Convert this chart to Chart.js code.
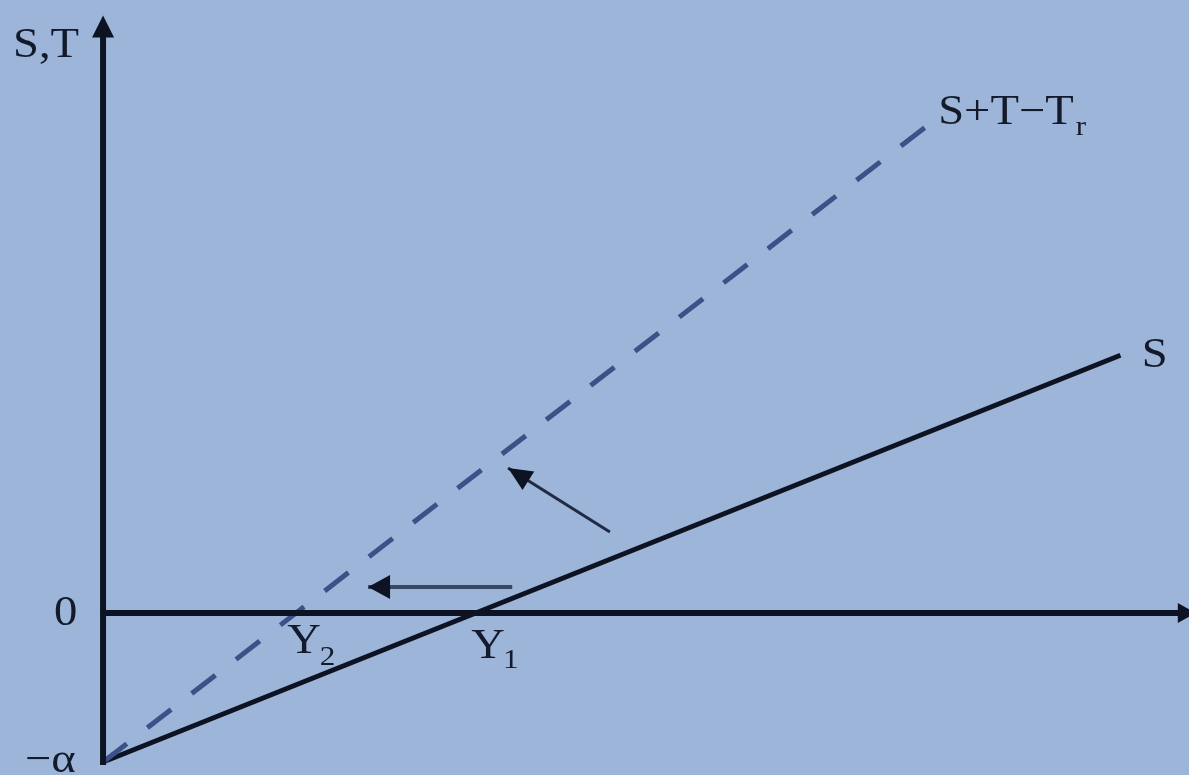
<!DOCTYPE html>
<html>
<head>
<meta charset="utf-8">
<title>S, T diagram</title>
<script src="https://cdn.jsdelivr.net/npm/chart.js@4"></script>
<style>
  html, body { margin: 0; padding: 0; background: #9db5d9; overflow: hidden; }
  #wrap { width: 1189px; height: 775px; position: relative; }
</style>
</head>
<body>
<div id="wrap"><canvas id="chart"></canvas></div>
<script>
// data (arbitrary units: alpha = 1, Y1 = 4)
const alpha = 1;
const Y1 = 4;
const Y2 = 2.08;
const savingX = [0, 10.94];
const savingY = [-alpha, 1.73];
const shiftedX = [0, 8.84];
const shiftedY = [-alpha, 3.26];
const xAxisX = [0, 11.75];
const yAxisY = [-1.02, 4.01];
const leftArrowX = [4.4, 2.85];
const leftArrowY = [0.175, 0.175];
const diagArrowX = [5.45, 4.355];
const diagArrowY = [0.544, 0.973];

const toPoints = (xs, ys) => xs.map((x, i) => ({ x: x, y: ys[i] }));

// arrowheads and labels drawn on top, placed through the chart scales
const overlay = {
    id: "overlay",
    afterDatasetsDraw(chart) {
        const ctx = chart.ctx;
        const sx = chart.scales.x, sy = chart.scales.y;
        const px = v => sx.getPixelForValue(v);
        const py = v => sy.getPixelForValue(v);

        function head(x0, y0, x1, y1, len, half, color) {
            const ax = px(x0), ay = py(y0), bx = px(x1), by = py(y1);
            const ang = Math.atan2(by - ay, bx - ax);
            ctx.save();
            ctx.fillStyle = color;
            ctx.translate(bx, by);
            ctx.rotate(ang);
            ctx.beginPath();
            ctx.moveTo(0, 0);
            ctx.lineTo(-len, -half);
            ctx.lineTo(-len, half);
            ctx.closePath();
            ctx.fill();
            ctx.restore();
        }
        head(0, 0, xAxisX[1], 0, 18, 10, "#0d1322");
        head(0, yAxisY[0], 0, yAxisY[1], 22, 11, "#0d1322");
        head(leftArrowX[0], leftArrowY[0], leftArrowX[1], leftArrowY[1], 22, 12, "#0d1322");
        head(diagArrowX[0], diagArrowY[0], diagArrowX[1], diagArrowY[1], 24, 11, "#0d1322");

        // serif labels, a bit wider than the plain font like in the scan
        function text(str, x, y, size) {
            ctx.save();
            ctx.font = size + "px 'Liberation Serif', 'DejaVu Serif', serif";
            ctx.fillStyle = "#121a2b";
            ctx.textBaseline = "alphabetic";
            ctx.textAlign = "left";
            ctx.translate(px(x), py(y));
            ctx.scale(1.11, 1);
            ctx.fillText(str, 0, 0);
            ctx.restore();
        }
        text("S,T", -0.968, 3.73, 42);
        text("S+T\u2212T", 8.98, 3.28, 42);
        text("r", 10.46, 3.21, 28);
        text("S", 11.17, 1.65, 42);
        text("0", -0.527, -0.08, 42);
        text("Y", 1.98, -0.27, 42);
        text("2", 2.33, -0.35, 28);
        text("Y", 3.96, -0.30, 42);
        text("1", 4.30, -0.37, 28);
        text("\u2212\u03b1", -0.84, -1.07, 42);
    }
};

new Chart(document.getElementById("chart"), {
    type: "scatter",
    data: {
        datasets: [
            { data: toPoints(xAxisX.map(v => Math.min(v, 11.6)), [0, 0]), borderColor: "#0d1322", borderWidth: 6 },
            { data: toPoints([0, 0], yAxisY.map(v => Math.min(v, 3.9))), borderColor: "#0d1322", borderWidth: 6 },
            { data: toPoints(shiftedX, shiftedY), borderColor: "#3d5189", borderWidth: 5, borderDash: [30, 26] },
            { data: toPoints(savingX, savingY), borderColor: "#0d1322", borderWidth: 5 },
            { data: toPoints(leftArrowX, leftArrowY), borderColor: "#3a4662", borderWidth: 4 },
            { data: toPoints(diagArrowX, diagArrowY), borderColor: "#1f2a44", borderWidth: 3 }
        ].map(d => Object.assign({ showLine: true, pointRadius: 0, pointHoverRadius: 0, fill: false }, d))
    },
    options: {
        responsive: true,
        maintainAspectRatio: false,
        animation: false,
        layout: { padding: 0 },
        plugins: { legend: { display: false }, tooltip: { enabled: false } },
        scales: {
            x: { type: "linear", min: -1.108, max: 11.677, display: false },
            y: { type: "linear", min: -1.087, max: 4.114, display: false }
        }
    },
    plugins: [overlay]
});
</script>
</body>
</html>
